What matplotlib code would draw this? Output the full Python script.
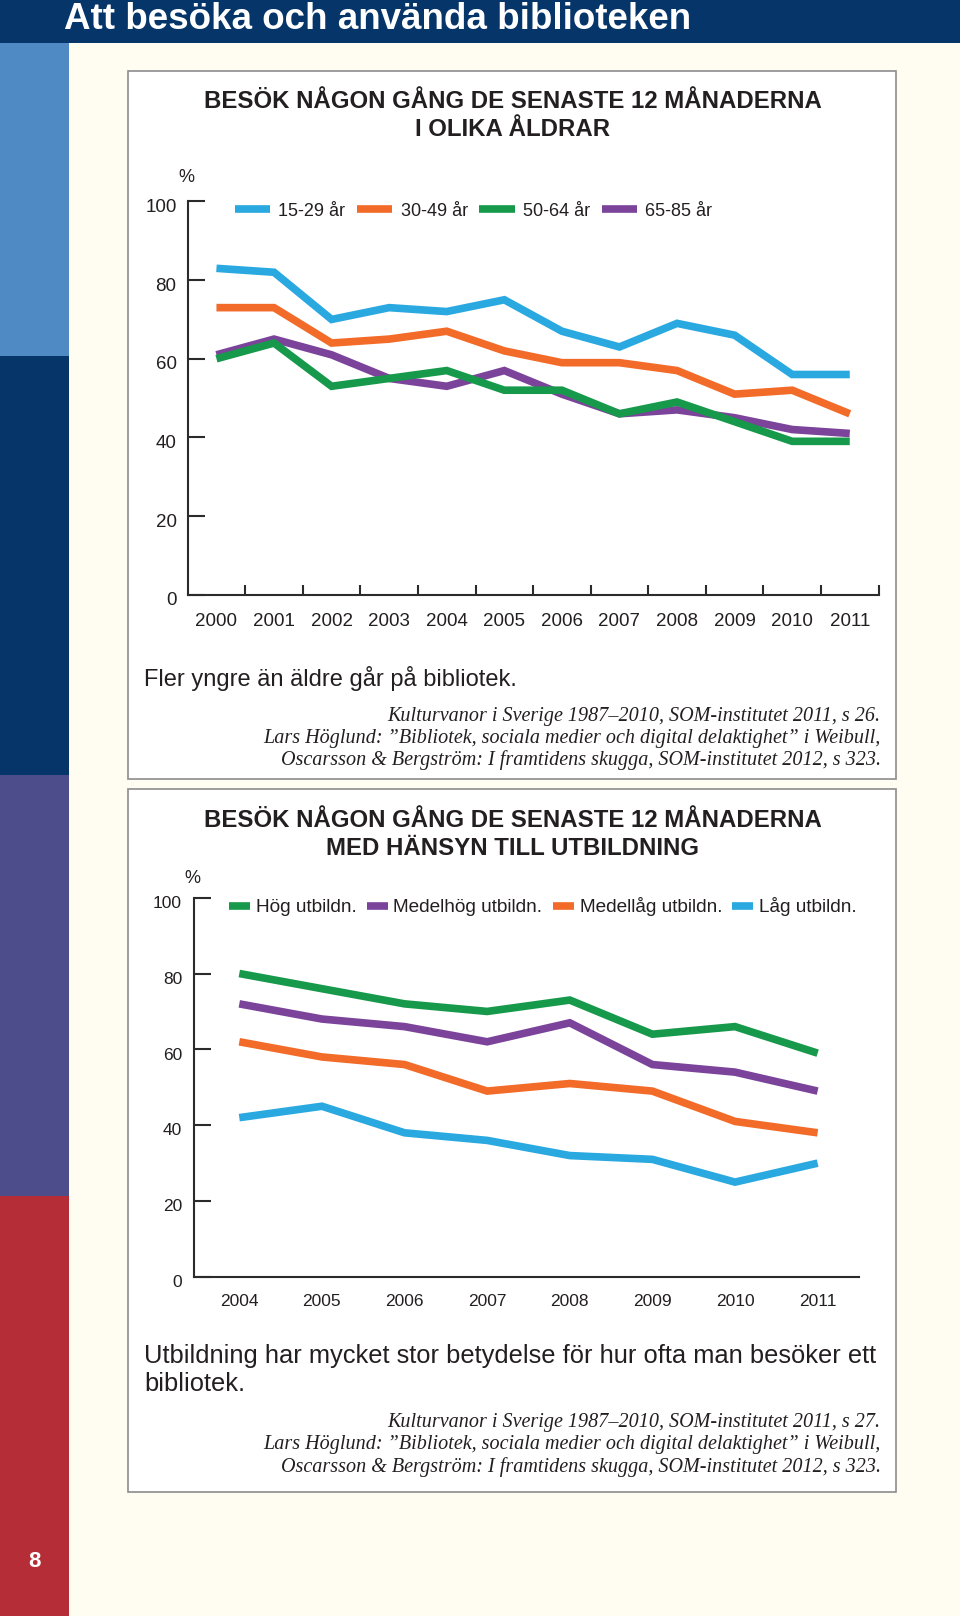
import matplotlib
matplotlib.use("Agg")
import matplotlib.pyplot as plt
from matplotlib.patches import Rectangle
from matplotlib.lines import Line2D
from matplotlib.transforms import ScaledTranslation

# --- data, chart 1: besök i olika åldrar
years_age = [2000, 2001, 2002, 2003, 2004, 2005, 2006, 2007, 2008, 2009, 2010, 2011]
age_labels = ["15-29 år", "30-49 år", "50-64 år", "65-85 år"]
age_15_29 = [83, 82, 70, 73, 72, 75, 67, 63, 69, 66, 56, 56]
age_30_49 = [73, 73, 64, 65, 67, 62, 59, 59, 57, 51, 52, 46]
age_50_64 = [60, 64, 53, 55, 57, 52, 52, 46, 49, 44, 39, 39]
age_65_85 = [61, 65, 61, 55, 53, 57, 51, 46, 47, 45, 42, 41]

# --- data, chart 2: besök med hänsyn till utbildning
years_edu = [2004, 2005, 2006, 2007, 2008, 2009, 2010, 2011]
edu_labels = ["Hög utbildn.", "Medelhög utbildn.", "Medellåg utbildn.", "Låg utbildn."]
edu_hog = [80, 76, 72, 70, 73, 64, 66, 59]
edu_medelhog = [72, 68, 66, 62, 67, 56, 54, 49]
edu_medellag = [62, 58, 56, 49, 51, 49, 41, 38]
edu_lag = [42, 45, 38, 36, 32, 31, 25, 30]

yticks = [0, 20, 40, 60, 80, 100]

BLUE = "#2aa8e0"
ORANGE = "#f26b29"
GREEN = "#17994b"
PURPLE = "#7b449a"
NAVY = "#063569"
INK = "#231f20"

SANS = ["Liberation Sans", "DejaVu Sans"]
SERIF = ["Liberation Serif", "DejaVu Serif"]
plt.rcParams['font.family'] = SANS

W, H = 931.0, 1568.0   # layout measured on the reference

def fx(x):
    return x / W

def fy(y):
    return 1 - y / H

def box(x0, y0, x1, y1):
    return [x0 / W, 1 - y1 / H, (x1 - x0) / W, (y1 - y0) / H]

fig = plt.figure(figsize=(9.6, 16.16), dpi=100)
fig.patch.set_facecolor("#fffdf1")

def rect(x0, y0, x1, y1, **kw):
    r = Rectangle((x0 / W, 1 - y1 / H), (x1 - x0) / W, (y1 - y0) / H,
                  transform=fig.transFigure, zorder=-10, **kw)
    fig.patches.append(r)

# page decoration
rect(0, 0, W, 42, facecolor=NAVY, edgecolor="none")
rect(0, 42, 67, 345, facecolor="#4f8ac4", edgecolor="none")
rect(0, 345, 67, 752, facecolor=NAVY, edgecolor="none")
rect(0, 752, 67, 1160, facecolor="#4e4d8c", edgecolor="none")
rect(0, 1160, 67, H, facecolor="#b52e37", edgecolor="none")
rect(124, 69, 869, 756, facecolor="white", edgecolor="#8c8c8c", linewidth=1.2)
rect(124, 766, 869, 1448, facecolor="white", edgecolor="#8c8c8c", linewidth=1.2)

fig.text(fx(62), fy(28), "Att besöka och använda biblioteken", color="white",
         fontsize=26.5, weight="bold", ha="left", va="baseline")
fig.text(fx(33), fy(1515), "8", color="white", fontsize=16, weight="bold",
         ha="center", va="center")


def style_axes(ax, ylab_pad, xlab_pad, labelsize):
    for s in ["top", "right"]:
        ax.spines[s].set_visible(False)
    for s in ["left", "bottom"]:
        ax.spines[s].set_linewidth(1.5)
        ax.spines[s].set_color("#2b2b2b")
    ax.set_facecolor("none")
    ax.set_ylim(0, 100)
    ax.set_yticks(yticks)
    ax.tick_params(axis="y", direction="in", length=12, width=1.5, color="#2b2b2b",
                   pad=ylab_pad, labelsize=labelsize, labelcolor=INK)
    ax.tick_params(axis="x", which="major", length=0, pad=xlab_pad,
                   labelsize=labelsize, labelcolor=INK)
    off = ScaledTranslation(0, -3 / 72, fig.dpi_scale_trans)
    for lab in ax.get_yticklabels():
        lab.set_transform(lab.get_transform() + off)


# ---------------- chart 1
fig.text(fx(497), fy(104.5), "BESÖK NÅGON GÅNG DE SENASTE 12 MÅNADERNA",
         ha="center", va="baseline", fontsize=17.3, weight="bold", color=INK)
fig.text(fx(497), fy(131.5), "I OLIKA ÅLDRAR",
         ha="center", va="baseline", fontsize=17.3, weight="bold", color=INK)
fig.text(fx(181), fy(172), "%", ha="center", va="center", fontsize=13, color=INK)

ax1 = fig.add_axes(box(182, 195.5, 852, 577))
style_axes(ax1, 8, 13, 13.5)
ax1.set_xlim(1999.5, 2011.5)
ax1.set_xticks(years_age)
ax1.set_xticks([y + 0.5 for y in years_age], minor=True)
ax1.tick_params(axis="x", which="minor", direction="in", length=7, width=1.5,
                color="#2b2b2b")

lw = 5.5
kw = dict(linewidth=lw, solid_joinstyle="miter", solid_capstyle="butt")
ax1.plot(years_age, age_15_29, color=BLUE, **kw)
ax1.plot(years_age, age_30_49, color=ORANGE, **kw)
ax1.plot(years_age, age_65_85, color=PURPLE, **kw)
ax1.plot(years_age, age_50_64, color=GREEN, **kw)

h1 = [Line2D([], [], color=c, linewidth=lw, solid_capstyle="butt")
      for c in [BLUE, ORANGE, GREEN, PURPLE]]
ax1.legend(h1, age_labels, loc="center left", bbox_to_anchor=(0.0687, 0.975),
           ncol=4, frameon=False, fontsize=13, handlelength=1.95,
           handletextpad=0.45, columnspacing=0.65, borderpad=0, borderaxespad=0,
           labelcolor=INK)

fig.text(fx(140), fy(666), "Fler yngre än äldre går på bibliotek.",
         ha="left", va="baseline", fontsize=17, color=INK)
cite1 = ["Kulturvanor i Sverige 1987–2010, SOM-institutet 2011, s 26.",
         "Lars Höglund: ”Bibliotek, sociala medier och digital delaktighet” i Weibull,",
         "Oscarsson & Bergström: I framtidens skugga, SOM-institutet 2012, s 323."]
for i, t in enumerate(cite1):
    fig.text(fx(854), fy(699.3 + 21.7 * i), t, ha="right", va="baseline",
             fontsize=14.5, style="italic", family=SERIF, color=INK)

# ---------------- chart 2
fig.text(fx(497), fy(802.5), "BESÖK NÅGON GÅNG DE SENASTE 12 MÅNADERNA",
         ha="center", va="baseline", fontsize=17.3, weight="bold", color=INK)
fig.text(fx(497), fy(829.5), "MED HÄNSYN TILL UTBILDNING",
         ha="center", va="baseline", fontsize=17.3, weight="bold", color=INK)
fig.text(fx(187), fy(852), "%", ha="center", va="center", fontsize=13, color=INK)

ax2 = fig.add_axes(box(188, 871, 833, 1239))
style_axes(ax2, 8.5, 12, 12.5)
ax2.set_xlim(2003.45, 2011.5)
ax2.set_xticks(years_edu)

ax2.plot(years_edu, edu_hog, color=GREEN, **kw)
ax2.plot(years_edu, edu_medelhog, color=PURPLE, **kw)
ax2.plot(years_edu, edu_medellag, color=ORANGE, **kw)
ax2.plot(years_edu, edu_lag, color=BLUE, **kw)

h2 = [Line2D([], [], color=c, linewidth=lw, solid_capstyle="butt")
      for c in [GREEN, PURPLE, ORANGE, BLUE]]
ax2.legend(h2, edu_labels, loc="center left", bbox_to_anchor=(0.0527, 0.9755),
           ncol=4, frameon=False, fontsize=13.7, handlelength=1.1,
           handletextpad=0.3, columnspacing=0.55, borderpad=0, borderaxespad=0,
           labelcolor=INK)

fig.text(fx(140), fy(1322.3),
         "Utbildning har mycket stor betydelse för hur ofta man besöker ett",
         ha="left", va="baseline", fontsize=18.4, color=INK)
fig.text(fx(140), fy(1349.8), "bibliotek.", ha="left", va="baseline",
         fontsize=18.4, color=INK)
cite2 = ["Kulturvanor i Sverige 1987–2010, SOM-institutet 2011, s 27.",
         "Lars Höglund: ”Bibliotek, sociala medier och digital delaktighet” i Weibull,",
         "Oscarsson & Bergström: I framtidens skugga, SOM-institutet 2012, s 323."]
for i, t in enumerate(cite2):
    fig.text(fx(854), fy(1384.4 + 22 * i), t, ha="right", va="baseline",
             fontsize=14.5, style="italic", family=SERIF, color=INK)

fig.savefig("out.png", dpi=100, facecolor=fig.get_facecolor())
